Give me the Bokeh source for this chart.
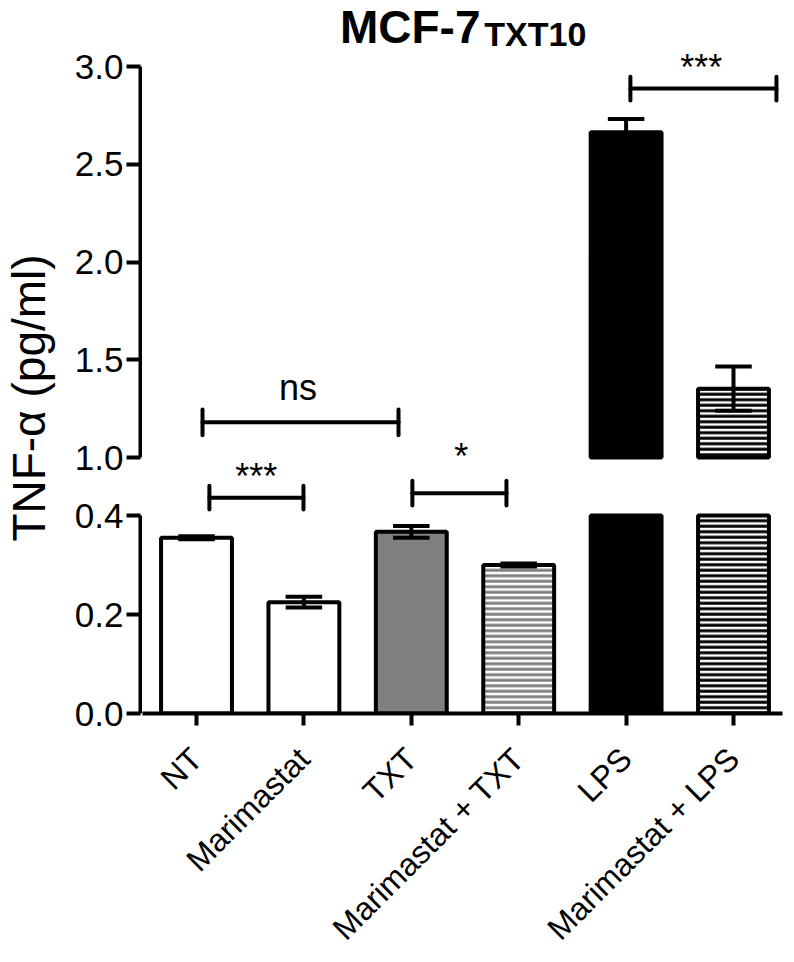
import math
import numpy as np
from bokeh.plotting import figure
from bokeh.models import Range1d, FixedTicker, Label, PrintfTickFormatter
from bokeh.layouts import row, column
from bokeh.core.properties import value
from bokeh.embed import file_html
from bokeh.resources import INLINE

# ---------------- data ----------------
categories = ["NT", "Marimastat", "TXT", "Marimastat + TXT", "LPS", "Marimastat + LPS"]
means = [0.355, 0.225, 0.367, 0.300, 2.664, 1.352]
errors = [0.003, 0.011, 0.012, 0.003, 0.068, 0.113]
fill_colors = ["white", "white", "#808080", "white", "black", "white"]
hatch_patterns = [" ", " ", " ", "horizontal_line", " ", "horizontal_line"]
hatch_colors = ["black", "black", "black", "#808080", "black", "black"]

lower_segment = [0.0, 0.4]
upper_segment = [1.0, 3.0]
lower_ticks = [0.0, 0.2, 0.4]
upper_ticks = [1.0, 1.5, 2.0, 2.5, 3.0]

sig_text = ["***", "*", "ns", "***"]
sig_x0 = [0.12, 2.01, 0.056, 4.04]
sig_x1 = [0.996, 2.886, 1.881, 5.40]
sig_y = [0.436, 0.445, 1.18, 2.887]
sig_half = [0.024, 0.025, 0.066, 0.061]
sig_panel = ["lower", "lower", "upper", "upper"]
sig_text_x = [0.557, 2.465, 0.945, 4.70]
sig_text_y = [0.479, 0.520, 1.36, 2.997]

# ---------------- layout constants (pixels) ----------------
ONE_Y = 457      # page y of 1.0
ZERO_Y = 713     # page y of 0.0
SPLIT_Y = 480    # split between axis panels
UPPER_PX = 195.5
LOWER_PX = 495.0
X0_PX, X_STEP = 196.0, 107.4
LAB_W = 60
AX_BORDER = 80
FRAME_L, FRAME_R = 142, 782
MAIN_BOTTOM = 249

FONT = "Liberation Sans"
LW = 4
BAR_W = 0.66
CAP = 0.17

x_start = (FRAME_L - X0_PX) / X_STEP
x_end = (FRAME_R - X0_PX) / X_STEP
up_lo = upper_segment[0] - (ZERO_Y - ONE_Y) / UPPER_PX
up_hi = upper_segment[0] + ONE_Y / UPPER_PX
low_hi = ZERO_Y / LOWER_PX

# ---------------- main figure ----------------
p = figure(x_range=Range1d(x_start, x_end), y_range=Range1d(0, low_hi),
           frame_width=FRAME_R - FRAME_L, frame_height=ZERO_Y,
           min_border_left=0, min_border_right=2, min_border_top=0,
           min_border_bottom=MAIN_BOTTOM,
           y_axis_location=None, toolbar_location=None, output_backend="svg",
           background_fill_color="white", border_fill_color="white")
p.extra_y_ranges = {"upper": Range1d(up_lo, up_hi)}
p.outline_line_color = None
p.grid.visible = False

xs = np.arange(len(categories), dtype=float)
m = np.array(means)
e = np.array(errors)

# lower segment bars (clipped at 0.4)
low_top = np.minimum(m, lower_segment[1])
p.vbar(x=xs, bottom=lower_segment[0], top=low_top, width=BAR_W,
       fill_color=fill_colors, line_color="black", line_width=LW,
       hatch_pattern=hatch_patterns, hatch_color=hatch_colors,
       hatch_scale=5.5, hatch_weight=3)
# upper segment bars
up_mask = m > upper_segment[0]
p.vbar(x=xs[up_mask], bottom=upper_segment[0], top=m[up_mask], width=BAR_W,
       fill_color=list(np.array(fill_colors)[up_mask]), line_color="black", line_width=LW,
       hatch_pattern=list(np.array(hatch_patterns)[up_mask]),
       hatch_color=list(np.array(hatch_colors)[up_mask]),
       hatch_scale=5.5, hatch_weight=3, y_range_name="upper")

# error bars
def err_bars(mask, rng):
    xx, mm, ee = xs[mask], m[mask], e[mask]
    kw = dict(line_color="black", line_width=LW)
    if rng:
        kw["y_range_name"] = rng
    p.segment(x0=xx, y0=mm - ee, x1=xx, y1=mm + ee, **kw)
    p.segment(x0=xx - CAP, y0=mm + ee, x1=xx + CAP, y1=mm + ee, **kw)
    p.segment(x0=xx - CAP, y0=mm - ee, x1=xx + CAP, y1=mm - ee, **kw)

err_bars(m <= lower_segment[1], None)
err_bars(up_mask, "upper")

# significance brackets
for t, a, b, y, h, pan, tx, ty in zip(sig_text, sig_x0, sig_x1, sig_y, sig_half,
                                      sig_panel, sig_text_x, sig_text_y):
    kw = dict(line_color="black", line_width=LW, line_cap="round")
    if pan == "upper":
        kw["y_range_name"] = "upper"
    p.segment(x0=[a, a, b], y0=[y, y - h, y - h], x1=[b, a, b], y1=[y, y + h, y + h], **kw)
    tkw = dict(text_font=value(FONT), text_font_size="36px", text_align="center",
               text_baseline="alphabetic", text_color="black")
    if pan == "upper":
        tkw["y_range_name"] = "upper"
    p.text(x=[tx], y=[ty], text=[t], **tkw)

# title
p.text(x=[2.644], y=[3.20], text=["MCF-7"], y_range_name="upper",
       text_font=value(FONT), text_font_style="bold", text_font_size="46px",
       text_align="right", text_baseline="alphabetic")
p.text(x=[2.68], y=[3.164], text=["TXT10"], y_range_name="upper",
       text_font=value(FONT), text_font_style="bold", text_font_size="34px",
       text_align="left", text_baseline="alphabetic")

# x axis
xa = p.xaxis[0]
xa.ticker = FixedTicker(ticks=list(xs))
xa.major_label_overrides = {int(i): c for i, c in enumerate(categories)}
xa.major_label_orientation = math.pi / 4
xa.major_label_text_font = FONT
xa.major_label_text_font_size = "32px"
xa.major_label_text_color = "black"
xa.major_label_standoff = 28
xa.axis_line_width = LW
xa.major_tick_line_width = LW
xa.major_tick_out = 12
xa.major_tick_in = 0
xa.minor_tick_line_color = None

# ---------------- y-axis figures ----------------
def axis_fig(y0, y1, top_px, bottom_px, ticks, bounds, border_bottom):
    f = figure(x_range=Range1d(0, 1), y_range=Range1d(y0, y1),
               frame_width=2, frame_height=bottom_px - top_px,
               min_border_left=AX_BORDER, min_border_right=0, min_border_top=0,
               min_border_bottom=border_bottom,
               x_axis_location=None, toolbar_location=None, output_backend="svg")
    f.outline_line_color = None
    f.grid.visible = False
    ya = f.yaxis[0]
    ya.ticker = FixedTicker(ticks=ticks)
    ya.bounds = tuple(bounds)
    ya.formatter = PrintfTickFormatter(format="%.1f")
    ya.major_label_text_font = FONT
    ya.major_label_text_font_size = "35px"
    ya.major_label_text_color = "black"
    ya.axis_line_width = LW
    ya.major_tick_line_width = LW
    ya.major_tick_out = 14
    ya.major_tick_in = 0
    ya.minor_tick_line_color = None
    ya.major_label_standoff = 3
    return f

ax_up = axis_fig(upper_segment[0] - (SPLIT_Y - ONE_Y) / UPPER_PX, up_hi,
                 0, SPLIT_Y, upper_ticks, upper_segment, 0)
ax_low = axis_fig(0, (ZERO_Y - SPLIT_Y) / LOWER_PX, SPLIT_Y, ZERO_Y,
                  lower_ticks, lower_segment, 20)

# ---------------- y label figure (frame matches main frame: page pixels) ----------------
lab = figure(x_range=Range1d(0, LAB_W), y_range=Range1d(ZERO_Y, 0),
             frame_width=LAB_W, frame_height=ZERO_Y,
             min_border_left=0, min_border_right=0, min_border_top=0,
             min_border_bottom=MAIN_BOTTOM,
             x_axis_location=None, y_axis_location=None,
             toolbar_location=None, output_backend="svg")
lab.outline_line_color = None
lab.grid.visible = False
lab.add_layout(Label(x=28, y=397.5, text="TNF-α (pg/ml)",
                     angle=math.pi / 2, text_align="center", text_baseline="middle",
                     text_font=FONT, text_font_size="46px", text_color="black"))

layout = row(lab, column(ax_up, ax_low, spacing=0), p, spacing=0)
open("out.html", "w").write(file_html(layout, INLINE))
